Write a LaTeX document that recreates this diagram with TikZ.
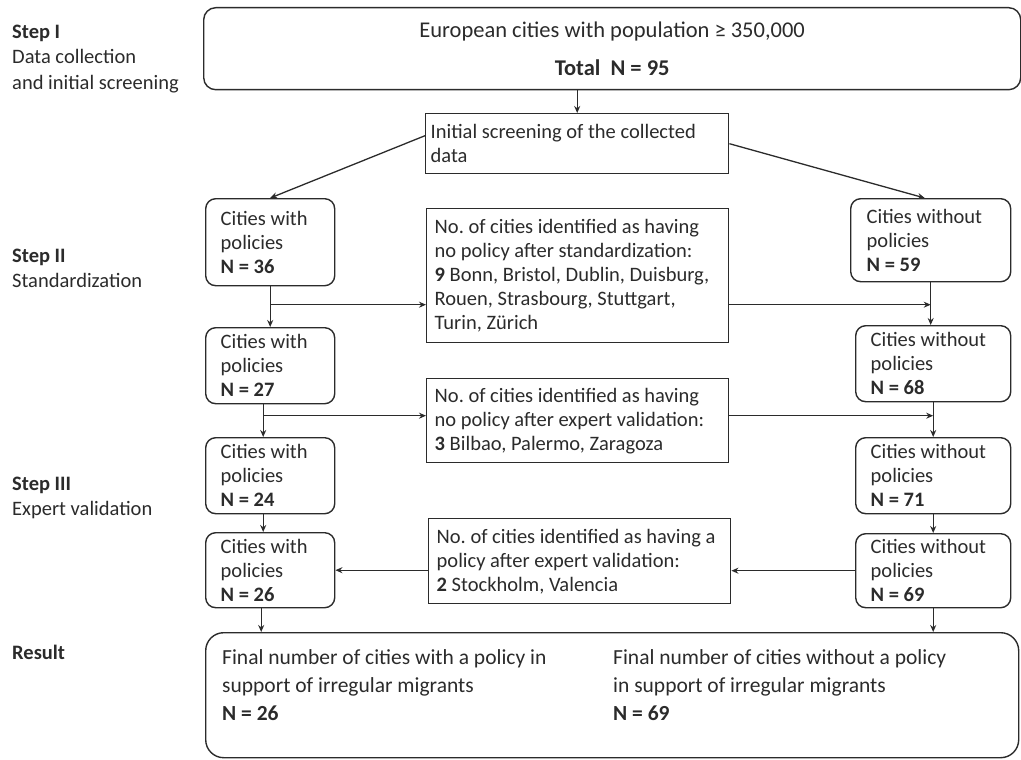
\documentclass[tikz,border=0pt]{standalone}
\usepackage{fontspec}
\setmainfont{Carlito}
\usetikzlibrary{arrows.meta}
\definecolor{ink}{HTML}{2B2B2B}
\frenchspacing
\begin{document}
\begin{tikzpicture}[x=1pt,y=-1pt,
  font=\fontsize{20.5}{24}\selectfont\frenchspacing, text=ink,
  rbox/.style={draw=ink, line width=1.4pt, rounded corners=10pt, anchor=north west, align=flush left, inner ysep=0pt, inner xsep=15pt},
  sbox/.style={draw=ink, line width=1.4pt, anchor=north west, align=flush left, inner ysep=0pt, inner xsep=8pt},
  arr/.style={draw=ink, line width=1.3pt, -{Stealth[length=7pt,width=6pt]}},
  lbl/.style={anchor=base west, inner sep=0pt},
  fin/.style={anchor=base west, inner sep=0pt, font=\fontsize{21.5}{28}\selectfont},
]
\useasboundingbox (0,0) rectangle (1021,760);

% step labels
\node[lbl, font=\fontsize{20.5}{24}\selectfont\bfseries] (s1) at (12,39) {Step I};
\node[lbl] (s1a) at (12,64) {Data collection};
\node[lbl] (s1b) at (12,89) {and initial screening};
\node[lbl, font=\fontsize{20.5}{24}\selectfont\bfseries] (s2) at (12,262) {Step II};
\node[lbl] (s2a) at (12,287) {Standardization};
\node[lbl, font=\fontsize{20.5}{24}\selectfont\bfseries] (s3) at (12,490) {Step III};
\node[lbl] (s3a) at (12,515) {Expert validation};
\node[lbl, font=\fontsize{20.5}{24}\selectfont\bfseries] (s4) at (12,659) {Result};

% top
\node[draw=ink, line width=1.4pt, rounded corners=12pt, anchor=north west,
      minimum width=817pt, minimum height=82pt, align=center,
      font=\fontsize{22.5}{38}\selectfont] (top) at (203,7)
      {European cities with population ≥ 350,000\\\textbf{Total\ \ N = 95}};

\node[sbox, inner xsep=5pt, text width=293pt, minimum height=60pt] (scr) at (425,113)
      {Initial screening of the collected\\data};

% left column
\node[rbox, text width=99pt, minimum height=87pt] (L1) at (205,198) {Cities with\\policies\\\textbf{N = 36}};
\node[rbox, text width=99pt, minimum height=76pt] (L2) at (205,327) {Cities with\\policies\\\textbf{N = 27}};
\node[rbox, text width=99pt, minimum height=76pt] (L3) at (205,437) {Cities with\\policies\\\textbf{N = 24}};
\node[rbox, text width=99pt, minimum height=75pt] (L4) at (205,532) {Cities with\\policies\\\textbf{N = 26}};

% right column
\node[rbox, inner xsep=16pt, text width=128pt, minimum height=83pt] (R1) at (850,198) {Cities without\\policies\\\textbf{N = 59}};
\node[rbox, text width=125pt, minimum height=76pt] (R2) at (855,325) {Cities without\\policies\\\textbf{N = 68}};
\node[rbox, text width=125pt, minimum height=76pt] (R3) at (855,437) {Cities without\\policies\\\textbf{N = 71}};
\node[rbox, text width=125pt, minimum height=74pt] (R4) at (855,533) {Cities without\\policies\\\textbf{N = 69}};

% middle column
\node[sbox, text width=286pt, minimum height=134pt] (M1) at (426,208)
  {No. of cities identified as having\\no policy after standardization:\\\textbf{9} Bonn, Bristol, Dublin, Duisburg,\\Rouen, Strasbourg, Stuttgart,\\Turin, Zürich};
\node[sbox, text width=286pt, minimum height=84pt] (M2) at (426,378)
  {No. of cities identified as having\\no policy after expert validation:\\\textbf{3} Bilbao, Palermo, Zaragoza};
\node[sbox, text width=286pt, minimum height=85pt] (M3) at (428,518)
  {No. of cities identified as having a\\policy after expert validation:\\\textbf{2} Stockholm, Valencia};

% final
\node[draw=ink, line width=1.4pt, rounded corners=18pt, anchor=north west,
      minimum width=813pt, minimum height=125pt] (fin) at (205,632) {};
\node[fin] (f1) at (222,664) {Final number of cities with a policy in};
\node[fin] (f2) at (222,692) {support of irregular migrants};
\node[fin, font=\fontsize{21.5}{28}\selectfont\bfseries] (f3) at (222,720) {N = 26};
\node[fin] (g1) at (613,664) {Final number of cities without a policy};
\node[fin] (g2) at (613,692) {in support of irregular migrants};
\node[fin, font=\fontsize{21.5}{28}\selectfont\bfseries] (g3) at (613,720) {N = 69};

% connectors
\draw[arr] (top.south -| scr.north) -- (scr.north);
\draw[arr] ([yshift=8pt]scr.west) -- (L1.north);
\draw[arr] (scr.east) -- ([xshift=-6pt]R1.north);

\coordinate (h1) at ([yshift=-29pt]M1.west);
\draw[arr] (L1.south) -- (L1.south |- L2.north);
\draw[arr] (L1.south |- h1) -- (h1);
\draw[arr] (M1.east |- h1) -- (R1.south |- h1);
\draw[arr] (R1.south) -- (R1.south |- R2.north);

\coordinate (h2) at ([yshift=5pt]M2.west);
\coordinate (l2) at ([xshift=-7pt]L2.south);
\draw[arr] (l2) -- (l2 |- L3.north);
\draw[arr] (l2 |- h2) -- (h2);
\draw[arr] (M2.east |- h2) -- (R2.south |- h2);
\draw[arr] (R2.south) -- (R2.south |- R3.north);

\coordinate (l3) at ([xshift=-7pt]L3.south);
\draw[arr] (l3) -- (l3 |- L4.north);
\draw[arr] (R3.south) -- (R3.south |- R4.north);

\draw[arr] (M3.west |- L4.east) -- (L4.east);
\draw[arr] (R4.west) -- (M3.east |- R4.west);

\coordinate (l4) at ([xshift=-9pt]L4.south);
\draw[arr] (l4) -- (l4 |- fin.north);
\draw[arr] (R4.south) -- (R4.south |- fin.north);
\end{tikzpicture}
\end{document}
